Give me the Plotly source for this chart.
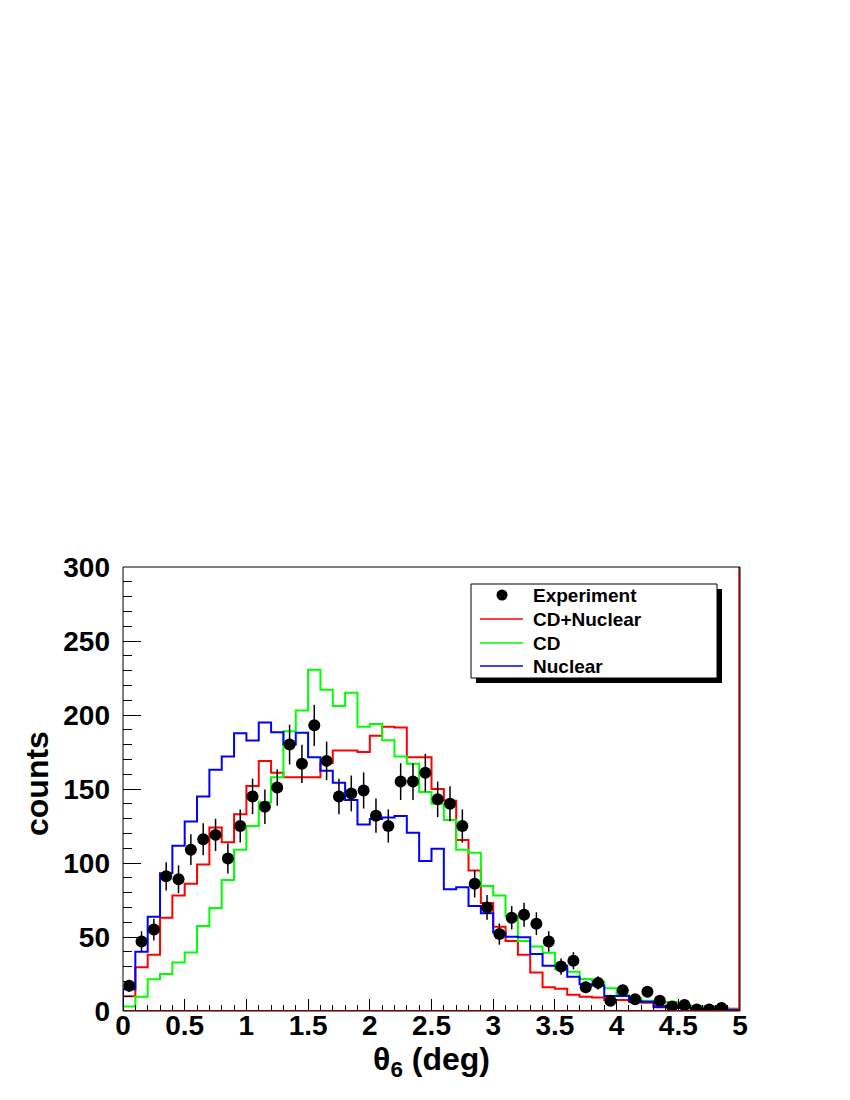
import plotly.graph_objects as go

# ---------------- data ----------------
bin_edges = [round(i * 0.1, 1) for i in range(51)]
bin_centers = [round(0.05 + i * 0.1, 2) for i in range(49)]

experiment = [17, 47, 55, 91, 89, 109, 116, 119, 103, 125, 145, 138, 151, 180, 167,
              193, 169, 145, 147, 149, 132, 125, 155, 155, 161, 143, 140, 125, 86, 70,
              52, 63, 65, 59, 47, 30, 34, 16, 19, 7, 14, 8, 13, 7, 3, 4, 1, 1, 2]
experiment_err = [4.1, 6.9, 7.4, 9.5, 9.4, 10.4, 10.8, 10.9, 10.1, 11.2, 12.0, 11.7, 12.3,
                  13.4, 12.9, 13.9, 13.0, 12.0, 12.1, 12.2, 11.5, 11.2, 12.4, 12.4, 12.7,
                  12.0, 11.8, 11.2, 9.3, 8.4, 7.2, 7.9, 8.1, 7.7, 6.9, 5.5, 5.8, 4.0, 4.4,
                  2.6, 3.7, 2.8, 3.6, 2.6, 1.7, 2.0, 1.0, 1.0, 1.4]

cd_nuclear = [10, 29.5, 38, 63, 78, 86, 99, 124, 114, 133, 152, 169, 161, 158, 158, 158, 167.5,
              176, 176, 175, 186, 192, 191.5, 171.5, 171.5, 150, 142, 115.5, 95, 73, 57, 47.3,
              38, 26, 16, 15, 11, 9.7, 9.2, 7.4, 7.4, 6, 5.6, 3.4, 3.4, 2.9, 2.5, 2.9, 2.2, 1.5]

cd = [3, 9.7, 21.4, 25, 32.7, 39.6, 57.4, 69.6, 88.5, 109, 125, 141, 158, 189, 203, 230.5, 217,
      206, 215, 192, 194, 183, 172, 167, 148, 140, 129, 109, 107, 84.5, 78, 64,
      47.3, 43.5, 39.4, 28.2, 26.6, 21.6, 19.8, 15.3, 10.8, 8.6, 7, 5.6, 6, 4, 2.9, 1.8, 1.8, 1]

nuclear = [14.7, 40, 63.7, 93, 111.7, 128, 145, 163, 172, 187.6, 182.7, 195, 188.3, 180, 188,
           171.4, 162.4, 154.3, 142.6, 126, 129.7, 130.8, 131.8, 120.5, 101.4, 109.7, 82.2,
           83.6, 71, 66, 53, 50.2, 49.8, 38.5, 30.6, 30.6, 23.2, 18, 17.3, 10.1, 10.1, 7,
           6.3, 2.5, 3.6, 2, 1.6, 0.7, 1, 0.7]

x_ticks = [0, 0.5, 1, 1.5, 2, 2.5, 3, 3.5, 4, 4.5, 5]
x_tick_labels = ["0", "0.5", "1", "1.5", "2", "2.5", "3", "3.5", "4", "4.5", "5"]
y_ticks = [0, 50, 100, 150, 200, 250, 300]

series = [("CD+Nuclear", cd_nuclear, "#ff0000"),
          ("CD", cd, "#00ff00"),
          ("Nuclear", nuclear, "#0000ff")]

# ---------------- layout geometry ----------------
W, H = 850, 1100
L, R, T, B = 123, 740, 567, 1011   # plot frame in page pixels
PAGE_OFF = 8                       # default body margin of the html page


def px2paper(px, py):
    return (px - L) / (R - L), (B - py) / (B - T)


FONT = "Liberation Sans, Arial, Helvetica, sans-serif"

fig = go.Figure()


def step_xy(vals):
    xs = [bin_edges[0]] + bin_edges[:-1] + [bin_edges[-1], bin_edges[-1]]
    ys = [0] + list(vals) + [vals[-1], 0]
    return xs, ys


for name, vals, col in series:
    xs, ys = step_xy(vals)
    fig.add_trace(go.Scatter(x=xs, y=ys, mode="lines", name=name,
                             line=dict(color=col, width=2, shape="hv"),
                             showlegend=False, hoverinfo="skip"))

fig.add_trace(go.Scatter(x=bin_centers, y=experiment, mode="markers", name="Experiment",
                         marker=dict(color="black", size=12),
                         error_y=dict(type="data", array=experiment_err, visible=True,
                                      color="black", thickness=1.5, width=0),
                         showlegend=False))

shapes = []
annotations = []

# ROOT-like red baseline and right edge line
shapes.append(dict(type="line", xref="x", yref="y", x0=0, x1=5, y0=0, y1=0,
                   line=dict(color="#ff0000", width=2), layer="above"))
shapes.append(dict(type="line", xref="paper", yref="paper", x0=0.9985, x1=0.9985, y0=0, y1=1,
                   line=dict(color="#cc0000", width=1.5), layer="above"))
# frame
shapes.append(dict(type="rect", xref="paper", yref="paper", x0=0, x1=1, y0=0, y1=1,
                   line=dict(color="black", width=1), layer="above"))

# legend (ROOT TLegend style with shadow)
lx0, ly0, lx1, ly1 = 471, 584, 717, 678
sh = 5
ax0, ay0 = px2paper(lx0 + sh, ly0 + sh)
ax1, ay1 = px2paper(lx1 + sh, ly1 + sh)
shapes.append(dict(type="rect", xref="paper", yref="paper", x0=ax0, x1=ax1, y0=ay1, y1=ay0,
                   fillcolor="black", line=dict(width=0), layer="above"))
bx0, by0 = px2paper(lx0, ly0)
bx1, by1 = px2paper(lx1, ly1)
shapes.append(dict(type="rect", xref="paper", yref="paper", x0=bx0, x1=bx1, y0=by1, y1=by0,
                   fillcolor="white", line=dict(color="black", width=1), layer="above"))

rows_y = [595, 619, 643, 666]
labels = ["Experiment"] + [s[0] for s in series]
colors = ["black"] + [s[2] for s in series]
for i, (lab, col) in enumerate(zip(labels, colors)):
    ry = rows_y[i]
    if i == 0:
        cx0, cy0 = px2paper(502 - 5.5, ry - 5.5)
        cx1, cy1 = px2paper(502 + 5.5, ry + 5.5)
        shapes.append(dict(type="circle", xref="paper", yref="paper", x0=cx0, x1=cx1,
                           y0=cy1, y1=cy0, fillcolor="black", line=dict(color="black", width=0),
                           layer="above"))
    else:
        sx0, sy = px2paper(480, ry)
        sx1, _ = px2paper(523, ry)
        shapes.append(dict(type="line", xref="paper", yref="paper", x0=sx0, x1=sx1, y0=sy, y1=sy,
                           line=dict(color=col, width=1.5), layer="above"))
    tx, ty = px2paper(531, ry)
    annotations.append(dict(xref="paper", yref="paper", x=tx, y=ty, text="<b>%s</b>" % lab,
                            showarrow=False, xanchor="left", yanchor="middle",
                            font=dict(family=FONT, size=19, color="black")))

# y axis title (rotated), placed like the reference
yx, yy = px2paper(37, 784)
annotations.append(dict(xref="paper", yref="paper", x=yx, y=yy, text="<b>counts</b>",
                        textangle=-90, showarrow=False, xanchor="center", yanchor="middle",
                        font=dict(family=FONT, size=32, color="black")))

fig.update_layout(
    width=W, height=H,
    margin=dict(l=L - PAGE_OFF, r=W - R + PAGE_OFF, t=T - PAGE_OFF, b=H - B + PAGE_OFF, pad=0,
                autoexpand=False),
    paper_bgcolor="white", plot_bgcolor="white",
    font=dict(family=FONT, size=28, color="black", weight="bold"),
    shapes=shapes, annotations=annotations,
    showlegend=False,
)

fig.update_xaxes(range=[0, 5], tickvals=x_ticks, ticktext=x_tick_labels,
                 ticks="inside", ticklen=12, tickwidth=1, tickcolor="black",
                 minor=dict(dtick=0.1, ticks="inside", ticklen=6, tickwidth=1, tickcolor="black"),
                 showgrid=False, zeroline=False, showline=False,
                 tickfont=dict(family=FONT, size=28, weight="bold"),
                 ticklabelstandoff=-5,
                 title=dict(text="θ<sub>6</sub> (deg)", font=dict(family=FONT, size=32, weight="bold"),
                            standoff=0))
fig.update_yaxes(range=[0, 300], tickvals=y_ticks,
                 ticks="inside", ticklen=18, tickwidth=1, tickcolor="black",
                 minor=dict(dtick=10, ticks="inside", ticklen=9, tickwidth=1, tickcolor="black"),
                 showgrid=False, zeroline=False, showline=False,
                 tickfont=dict(family=FONT, size=28, weight="bold"),
                 ticklabelstandoff=12)

fig.write_html("out.html")
